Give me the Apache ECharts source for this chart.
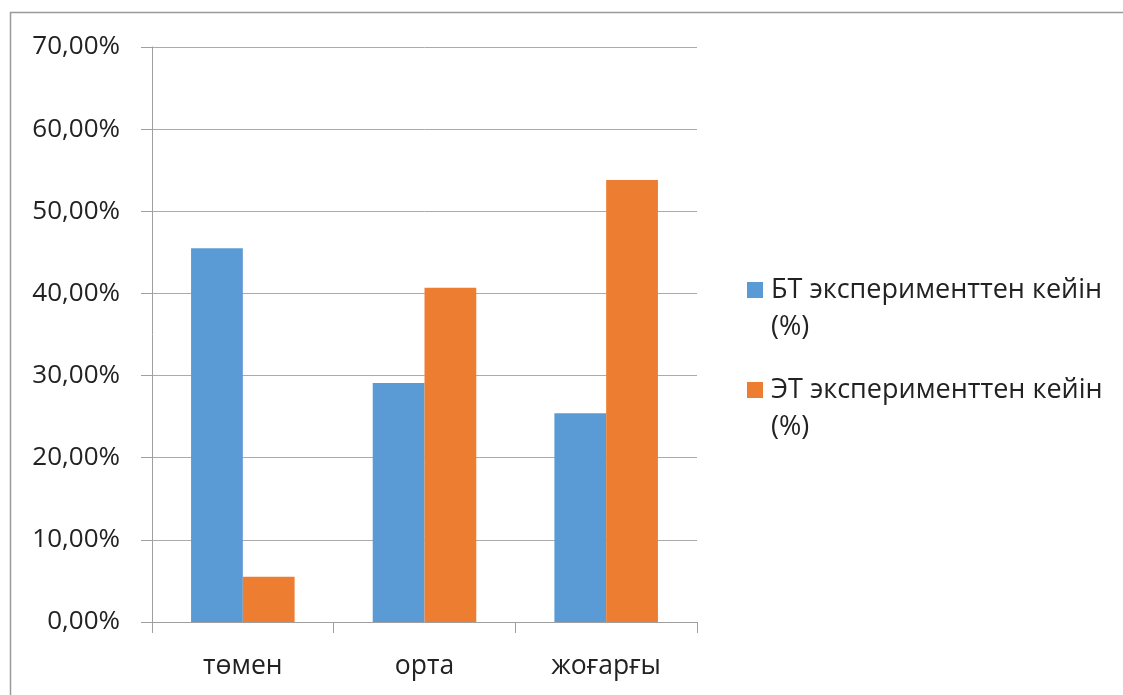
<!DOCTYPE html>
<html>
<head>
<meta charset="utf-8">
<style>
  html, body { margin: 0; padding: 0; background: #ffffff; }
  #chart { width: 1123px; height: 695px; }
</style>
<script src="https://cdn.jsdelivr.net/npm/echarts@6/dist/echarts.min.js"></script>
</head>
<body>
<div id="chart"></div>
<script>
// Categories and series values (percent)
const categories = ['төмен', 'орта', 'жоғарғы'];
const seriesNames = ['БТ эксперименттен кейін (%)', 'ЭТ эксперименттен кейін (%)'];
const btValues = [45.5, 29.1, 25.4];
const etValues = [5.5, 40.7, 53.8];
const yTicks = { min: 0, max: 70, interval: 10 };

const FONT = '"Open Sans", "Noto Sans", sans-serif';
const TEXT = '#222222';

// Legend swatch: a 16px square near the top of a taller box, so it lines up with the first text line
const swatch = 'path://M0,0L0.01,0L0.01,0.01Z M0,10L16,10L16,26L0,26Z M19,74L18.99,74L18.99,73.99Z';

const chart = echarts.init(document.getElementById('chart'), null, { renderer: 'canvas' });

chart.setOption({
  backgroundColor: '#ffffff',
  animation: false,
  graphic: [{
    type: 'rect',
    shape: { x: 10.5, y: 12.5, width: 1300, height: 900 },
    style: { fill: 'none', stroke: '#9a9a9a', lineWidth: 1.5 },
    silent: true,
    z: -10
  }],
  grid: { left: 152, right: 426, top: 47, bottom: 73, containLabel: false },
  legend: {
    orient: 'vertical',
    left: 742,
    top: 267,
    icon: swatch,
    itemWidth: 19,
    itemHeight: 74,
    itemGap: 26,
    formatter: name => name.replace(' (%)', '\n(%)'),
    textStyle: { fontFamily: FONT, fontSize: 27, color: TEXT, lineHeight: 37 }
  },
  xAxis: {
    type: 'category',
    data: categories,
    axisLine: { show: true, lineStyle: { color: '#9f9f9f', width: 1 } },
    axisTick: { show: true, length: 11, lineStyle: { color: '#9f9f9f' } },
    axisLabel: { fontFamily: FONT, fontSize: 26.5, color: TEXT, margin: 31 },
    splitLine: { show: false }
  },
  yAxis: {
    type: 'value',
    min: yTicks.min,
    max: yTicks.max,
    interval: yTicks.interval,
    axisLine: { show: true, lineStyle: { color: '#9f9f9f', width: 1 } },
    axisTick: { show: true, length: 11, lineStyle: { color: '#9f9f9f' } },
    axisLabel: {
      fontFamily: FONT, fontSize: 26, color: TEXT, margin: 32,
      formatter: v => v.toFixed(2).replace('.', ',') + '%'
    },
    splitLine: { show: true, lineStyle: { color: '#ababab', width: 1 } }
  },
  series: [
    {
      name: seriesNames[0],
      type: 'bar',
      data: btValues,
      barGap: '0%',
      barCategoryGap: '43%',
      itemStyle: { color: '#5B9BD5' }
    },
    {
      name: seriesNames[1],
      type: 'bar',
      data: etValues,
      barGap: '0%',
      barCategoryGap: '43%',
      itemStyle: { color: '#ED7D31' }
    }
  ]
});
</script>
</body>
</html>
